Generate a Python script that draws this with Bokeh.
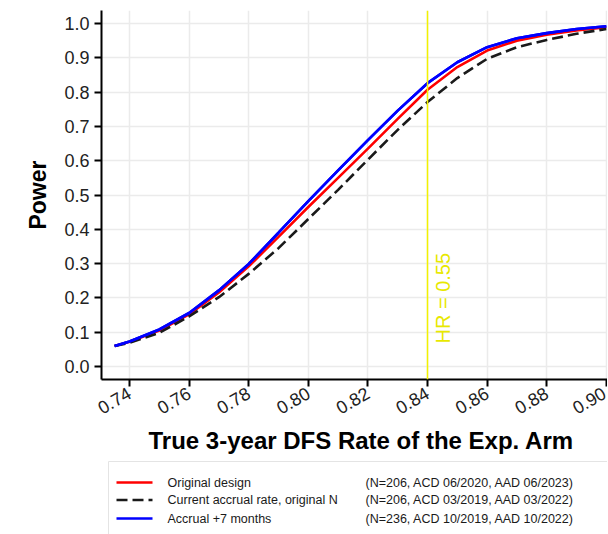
import math
from bokeh.plotting import figure
from bokeh.layouts import column
from bokeh.models import Range1d, FixedTicker, PrintfTickFormatter, Span, Label, Title
from bokeh.core.properties import value
from bokeh.embed import file_html
from bokeh.resources import INLINE

# ---- data ----
dfs_rate = [0.735, 0.74, 0.75, 0.76, 0.77, 0.78, 0.79, 0.80, 0.81, 0.82,
            0.83, 0.84, 0.85, 0.86, 0.87, 0.88, 0.89, 0.90]
power_original = [0.060, 0.072, 0.105, 0.152, 0.216, 0.292, 0.378, 0.465, 0.550, 0.635,
                  0.722, 0.807, 0.873, 0.921, 0.950, 0.967, 0.980, 0.989]
power_current = [0.060, 0.069, 0.098, 0.146, 0.202, 0.270, 0.345, 0.430, 0.515, 0.603,
                 0.690, 0.771, 0.841, 0.897, 0.931, 0.952, 0.970, 0.984]
power_plus7 = [0.060, 0.073, 0.108, 0.156, 0.222, 0.299, 0.390, 0.482, 0.572, 0.660,
               0.746, 0.826, 0.887, 0.931, 0.957, 0.972, 0.984, 0.992]

series_names = ["Original design", "Current accrual rate, original N", "Accrual +7 months"]
series_notes = ["(N=206, ACD 06/2020, AAD 06/2023)",
                "(N=206, ACD 03/2019, AAD 03/2022)",
                "(N=236, ACD 10/2019, AAD 10/2022)"]
series_colors = ["#ff0000", "#1a1a1a", "#0000ff"]
series_dash = ["solid", "11 5", "solid"]

x_ticks = [0.74, 0.76, 0.78, 0.80, 0.82, 0.84, 0.86, 0.88, 0.90]
y_ticks = [0.0, 0.1, 0.2, 0.3, 0.4, 0.5, 0.6, 0.7, 0.8, 0.9, 1.0]
hr_rate = 0.84
hr_text = "HR = 0.55"
hr_text_y = 0.067
x_title = "True 3-year DFS Rate of the Exp. Arm"
y_title = "Power"

FONT = "Liberation Sans"
LEFT = 101
FRAME_W = 506

p = figure(frame_width=FRAME_W, frame_height=369,
           x_range=Range1d(0.7306, 0.9004), y_range=Range1d(-0.0379, 1.0379),
           output_backend="svg", toolbar_location=None,
           min_border_left=LEFT, min_border_top=10, min_border_right=0, min_border_bottom=79,
           background_fill_color="white", border_fill_color="white")
p.outline_line_color = None

p.xaxis.ticker = FixedTicker(ticks=x_ticks)
p.yaxis.ticker = FixedTicker(ticks=y_ticks)
p.xaxis.formatter = PrintfTickFormatter(format="%.2f")
p.yaxis.formatter = PrintfTickFormatter(format="%.1f")
p.xgrid.ticker = FixedTicker(ticks=x_ticks)
p.ygrid.ticker = FixedTicker(ticks=y_ticks)
for g in (p.xgrid, p.ygrid):
    g.grid_line_color = "#ebebeb"
    g.grid_line_width = 1.5

for ax in (p.xaxis, p.yaxis):
    ax.axis_line_color = "black"
    ax.axis_line_width = 2
    ax.major_tick_line_color = "black"
    ax.major_tick_line_width = 2
    ax.major_tick_out = 7
    ax.major_tick_in = 0
    ax.minor_tick_line_color = None
    ax.major_label_text_font = FONT
    ax.major_label_text_font_size = "18px"
    ax.major_label_text_color = "#222222"
    ax.major_label_standoff = 5
    ax.axis_label_text_font = FONT
    ax.axis_label_text_font_style = "bold"
    ax.axis_label_text_font_size = "23px"
    ax.axis_label_text_color = "black"

p.xaxis.major_label_orientation = math.pi / 6
p.yaxis.axis_label = y_title
p.yaxis.axis_label_standoff = 10
# x title as a below-title so it can be nudged right like the reference
p.add_layout(Title(text=x_title, align="left", offset=47, standoff=3,
                   text_font=FONT, text_font_style="bold", text_font_size="24px",
                   text_color="black"), "below")

p.add_layout(Span(location=hr_rate, dimension="height", line_color="#f2f200", line_width=1.5))
p.add_layout(Label(x=hr_rate, y=hr_text_y, text=hr_text, angle=math.pi / 2,
                   x_offset=4, text_align="left", text_baseline="top",
                   text_color="#e8e800", text_font=FONT, text_font_size="20px"))

series = [power_original, power_current, power_plus7]
for ys, col, dash in zip(series, series_colors, series_dash):
    p.line(dfs_rate, ys, line_color=col, line_width=2.6, line_dash=dash)
# blue on top as in the reference
p.line(dfs_rate, power_plus7, line_color=series_colors[2], line_width=2.6)

# ---- legend panel (x in page pixels, y measured down from panel top) ----
LG_H = 76
lg = figure(frame_width=FRAME_W, frame_height=LG_H,
            x_range=Range1d(LEFT, LEFT + FRAME_W), y_range=Range1d(LG_H, 0),
            output_backend="svg", toolbar_location=None,
            min_border_left=LEFT, min_border_right=0, min_border_top=0, min_border_bottom=0,
            background_fill_color="white", border_fill_color="white")
lg.axis.visible = False
lg.grid.visible = False
lg.outline_line_color = None
lg.quad(left=[108], right=[650], top=[3], bottom=[100], fill_color="white",
        line_color="#e4e4e4", line_width=1)
row_y = [24, 41.5, 60]
for yy, col, dash in zip(row_y, series_colors, series_dash):
    lg.line([116, 152], [yy, yy], line_color=col, line_width=2.4, line_dash=dash)
lg.text(x=[167] * 3, y=row_y, text=series_names, text_baseline="middle",
        text_font=value(FONT), text_font_size="12.5px", text_color="#1a1a1a")
lg.text(x=[365] * 3, y=row_y, text=series_notes, text_baseline="middle",
        text_font=value(FONT), text_font_size="12.5px", text_color="#1a1a1a")

layout = column(p, lg)
open("out.html", "w").write(file_html(layout, INLINE))
